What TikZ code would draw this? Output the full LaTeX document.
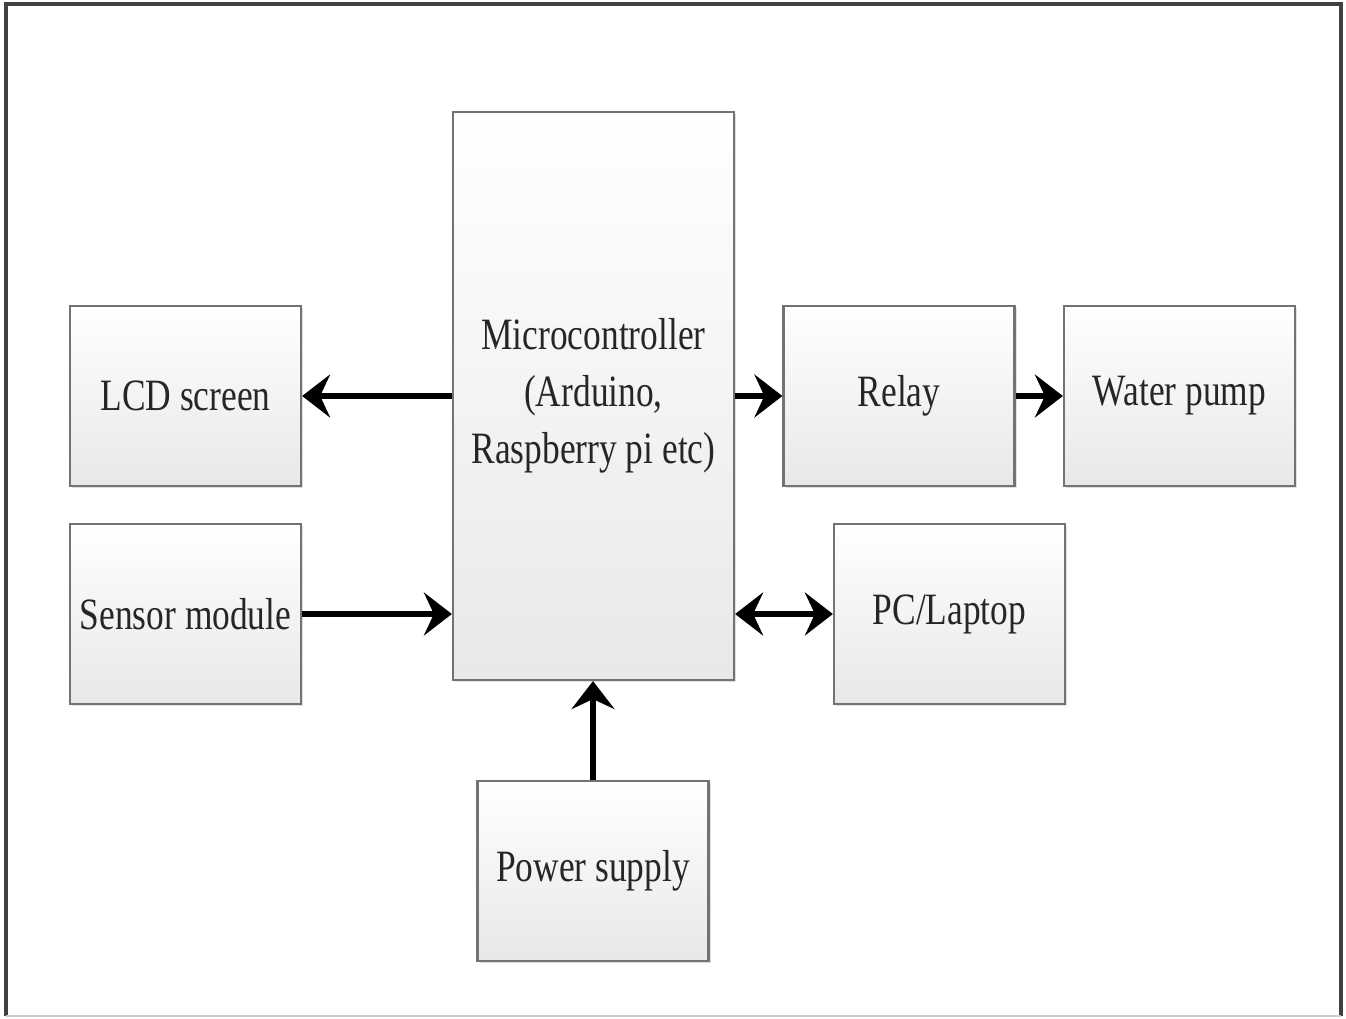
\documentclass[tikz,border=0pt]{standalone}
\usepackage{fontspec}
\setmainfont{Liberation Serif}[FakeStretch=0.79]
\usetikzlibrary{arrows.meta, shadows}

\begin{document}
\begin{tikzpicture}[x=0.02cm, y=-0.02cm,
    every node/.style={rectangle, draw=black!55, line width=1.3pt,
      top color=white, bottom color=black!9,
      drop shadow={shadow xshift=1.2pt, shadow yshift=-1.2pt, opacity=0.25},
      minimum width=4.62cm, minimum height=3.6cm, align=center,
      font=\fontsize{25.5}{32.4}\selectfont, text=black!85},
    >={Stealth[length=0.56cm, width=0.86cm, inset=0.2cm]},
    link/.style={line width=3.2pt, ->}]
    \useasboundingbox (0, 0) rectangle (1346, 1018);

    % frame
    \draw[black!75, line width=1.8pt] (6, 1016) -- (6, 4) -- (1341, 4) -- (1341, 1016);
    \draw[black!20, line width=1.6pt] (6, 1016) -- (1341, 1016);

    \node[minimum width=5.62cm, minimum height=11.36cm] (micro) at (593.5, 396)
      {Microcontroller\\(Arduino,\\Raspberry pi etc)};

    \node (lcd) at (185.5, 396) {LCD screen};
    \node (sensor) at (185.5, 614) {Sensor module};
    \node (relay) at (899, 396) {Relay};
    \node (pump) at (1179.5, 396) {Water pump};
    \node (pc) at (949.5, 614) {PC/Laptop};
    \node (power) at (593, 871) {Power supply};

    \draw[link] (micro.west) -- (lcd.east);
    \draw[link] (sensor.east) -- (sensor.east -| micro.west);
    \draw[link] (micro.east) -- (relay.west);
    \draw[link] (relay.east) -- (pump.west);
    \draw[link, <->] (pc.west -| micro.east) -- (pc.west);
    \draw[link] (power.north) -- (power.north |- micro.south);
  \end{tikzpicture}
\end{document}
